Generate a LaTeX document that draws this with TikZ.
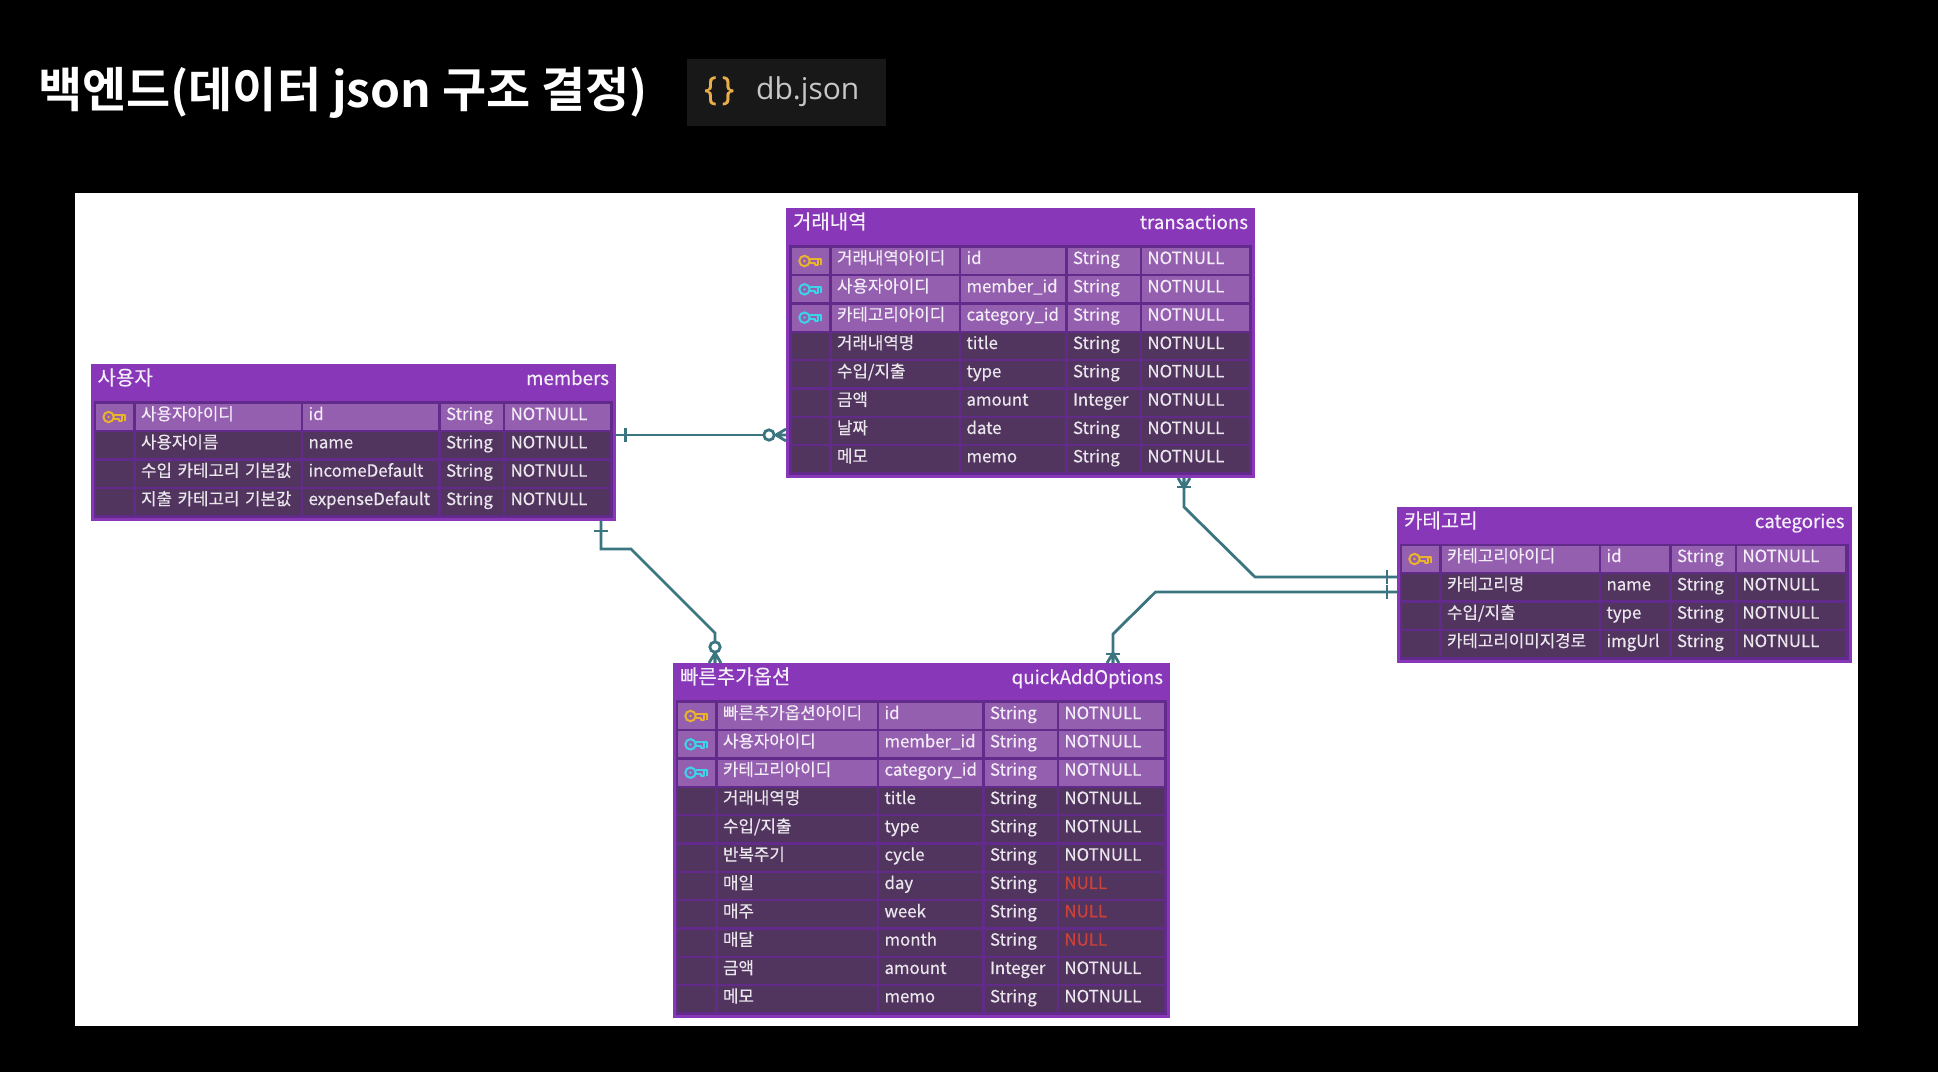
\documentclass[tikz,border=0pt]{standalone}
\usepackage{xcolor}
\usepackage{fontspec}
\setmainfont{Noto Sans CJK KR}[BoldFont={Noto Sans CJK KR Bold}]
\newfontfamily\tabfont{Open Sans}
\newfontfamily\bracefont{Open Sans}[FakeBold=0.6]
\newfontfamily\cellfont{Noto Sans CJK KR}[FakeBold=0.35]
\usetikzlibrary{positioning}
\definecolor{purplehead}{HTML}{8737B7}
\definecolor{purplegrid}{HTML}{622B8B}
\definecolor{keyrow}{HTML}{955FB0}
\definecolor{plainrow}{HTML}{52355F}
\definecolor{relteal}{HTML}{3B7580}
\definecolor{keygold}{HTML}{E8B32E}
\definecolor{keycyan}{HTML}{3FD3EA}
\definecolor{bracegold}{HTML}{E9AE4A}
\definecolor{nullred}{HTML}{CC4238}
\definecolor{tabbg}{HTML}{181818}
\newcommand{\wicon}{37pt}
\newcommand{\wname}{127pt}
\newcommand{\wfield}{104pt}
\newcommand{\wtype}{72pt}
\newcommand{\wnull}{107pt}
% row name, placement of its first cell, cell style, then the four texts
\newcommand{\errow}[7]{
    \node[#3, minimum width=\wicon, #2] (#1i) {};
    \node[#3, minimum width=\wname, text width=\wname-11pt, right=2.5pt of #1i] (#1n) {#4};
    \node[#3, minimum width=\wfield, text width=\wfield-11pt, right=2.5pt of #1n] (#1f) {#5};
    \node[#3, minimum width=\wtype, text width=\wtype-11pt, right=2.5pt of #1f] (#1t) {#6};
    \node[#3, minimum width=\wnull, text width=\wnull-11pt, right=2.5pt of #1t] (#1c) {#7};
}

\begin{document}
\begin{tikzpicture}[
    x=1pt, y=-1pt,
    canvas/.style={fill=white, inner sep=0pt, anchor=north west},
    erframe/.style={fill=purplehead, inner sep=0pt, outer sep=0pt, anchor=north west},
    erbody/.style={fill=purplegrid, inner sep=0pt, outer sep=0pt},
    ertitle/.style={text=white!92!purplehead, font=\fontsize{20}{20}\cellfont, inner sep=0pt, outer sep=0pt, text height=15pt, text depth=5pt},
    ername/.style={ertitle, font=\fontsize{18.7}{18.7}\cellfont},
    keycell/.style={fill=keyrow, text=white!88!keyrow, font=\fontsize{16.8}{16.8}\cellfont, inner xsep=5.5pt, inner ysep=0pt, outer sep=0pt, text height=16pt, text depth=10pt, align=left},
    plaincell/.style={keycell, fill=plainrow, text=white!88!plainrow},
    relline/.style={draw=relteal, line width=2.8pt},
    reltick/.pic={\draw[relline] (0,-7) -- (0,7);},
    relring/.pic={\draw[relline, fill=white] (0,0) circle (5.2pt);},
    relcrow/.pic={\draw[relline] (-10,0) -- (0,-6) (-10,0) -- (0,6) (-10,0) -- (0,0);},
    erkey/.pic={
        \draw[line width=2pt] (-6,0) circle (5.2pt);
        \fill (-6,0) circle (1.3pt);
        \draw[line width=2pt, line join=round] (-1,-2.5) -- (10.5,-2.5) -- (10.5,3.5) (7,-2.5) -- (7,3.5) -- (4,3.5) -- (4,1.5) -- (-1,1.5);
    }
]
    % Page
    \fill[black] (0,0) rectangle (1938,1072);
    \node[canvas, minimum width=1783pt, minimum height=833pt] (canvas) at (75,193) {};
    \node[anchor=base west, inner sep=0pt, text=white, font=\fontsize{48}{48}\selectfont\bfseries] (title) at (38,107) {백엔드(데이터 json 구조 결정)};
    \node[fill=tabbg, inner sep=0pt, minimum width=199pt, minimum height=67pt, anchor=north west] (tab) at (687,59) {};
    \node[anchor=base west, inner sep=0pt, text=bracegold, font=\fontsize{33}{33}\bracefont] (brace) at (704,100) {\{\kern5pt\}};
    \node[anchor=base west, inner sep=0pt, text=white!78!black, font=\fontsize{30}{30}\selectfont\tabfont] (tabname) at (756,99) {db.json};

    % Transactions table
    \node[erframe, minimum width=469pt, minimum height=270pt] (transactions) at (786,208) {};
    \node[erbody, minimum width=463pt, minimum height=230pt, above=3pt of transactions.south] (tbody) {};
    \node[ertitle, below right=6pt and 7pt of transactions.north west] (ttitle) {거래내역};
    \node[ername, below left=6pt and 7pt of transactions.north east] (tname) {transactions};
    \errow{t1}{below right=40pt and 6pt of transactions.north west}{keycell}{거래내역아이디}{id}{String}{NOTNULL}
    \errow{t2}{below=2.33pt of t1i}{keycell}{사용자아이디}{member\_id}{String}{NOTNULL}
    \errow{t3}{below=2.33pt of t2i}{keycell}{카테고리아이디}{category\_id}{String}{NOTNULL}
    \errow{t4}{below=2.33pt of t3i}{plaincell}{거래내역명}{title}{String}{NOTNULL}
    \errow{t5}{below=2.33pt of t4i}{plaincell}{수입/지출}{type}{String}{NOTNULL}
    \errow{t6}{below=2.33pt of t5i}{plaincell}{금액}{amount}{Integer}{NOTNULL}
    \errow{t7}{below=2.33pt of t6i}{plaincell}{날짜}{date}{String}{NOTNULL}
    \errow{t8}{below=2.33pt of t7i}{plaincell}{메모}{memo}{String}{NOTNULL}
    \pic[color=keygold] at (t1i) {erkey};
    \pic[color=keycyan] at (t2i) {erkey};
    \pic[color=keycyan] at (t3i) {erkey};

    % Members table
    \renewcommand{\wname}{165pt}
    \renewcommand{\wfield}{135pt}
    \renewcommand{\wtype}{62pt}
    \renewcommand{\wnull}{105pt}
    \node[erframe, minimum width=525.4pt, minimum height=156.7pt] (members) at (90.6,364) {};
    \node[erbody, minimum width=519.4pt, minimum height=116.7pt, above=3pt of members.south] (mbody) {};
    \node[ertitle, below right=6pt and 7pt of members.north west] (mtitle) {사용자};
    \node[ername, below left=6pt and 7pt of members.north east] (mname) {members};
    \errow{m1}{below right=40pt and 5.5pt of members.north west}{keycell}{사용자아이디}{id}{String}{NOTNULL}
    \errow{m2}{below=2.33pt of m1i}{plaincell}{사용자이름}{name}{String}{NOTNULL}
    \errow{m3}{below=2.33pt of m2i}{plaincell}{수입 카테고리 기본값}{incomeDefault}{String}{NOTNULL}
    \errow{m4}{below=2.33pt of m3i}{plaincell}{지출 카테고리 기본값}{expenseDefault}{String}{NOTNULL}
    \pic[color=keygold] at (m1i) {erkey};

    % Categories table
    \renewcommand{\wname}{157pt}
    \renewcommand{\wfield}{68pt}
    \renewcommand{\wtype}{63pt}
    \renewcommand{\wnull}{108pt}
    \node[erframe, minimum width=454.5pt, minimum height=156pt] (categories) at (1397,507) {};
    \node[erbody, minimum width=448.5pt, minimum height=116pt, above=3pt of categories.south] (cbody) {};
    \node[ertitle, below right=6pt and 7pt of categories.north west] (ctitle) {카테고리};
    \node[ername, below left=6pt and 7pt of categories.north east] (cname) {categories};
    \errow{c1}{below right=39pt and 5pt of categories.north west}{keycell}{카테고리아이디}{id}{String}{NOTNULL}
    \errow{c2}{below=2.33pt of c1i}{plaincell}{카테고리명}{name}{String}{NOTNULL}
    \errow{c3}{below=2.33pt of c2i}{plaincell}{수입/지출}{type}{String}{NOTNULL}
    \errow{c4}{below=2.33pt of c3i}{plaincell}{카테고리이미지경로}{imgUrl}{String}{NOTNULL}
    \pic[color=keygold] at (c1i) {erkey};

    % Quick add options table
    \renewcommand{\wname}{159pt}
    \renewcommand{\wfield}{103pt}
    \renewcommand{\wtype}{72pt}
    \renewcommand{\wnull}{105pt}
    \node[erframe, minimum width=497pt, minimum height=355pt] (quick) at (673,663) {};
    \node[erbody, minimum width=491pt, minimum height=315pt, above=3pt of quick.south] (qbody) {};
    \node[ertitle, below right=6pt and 7pt of quick.north west] (qtitle) {빠른추가옵션};
    \node[ername, below left=6pt and 7pt of quick.north east] (qname) {quickAddOptions};
    \errow{q1}{below right=40pt and 5pt of quick.north west}{keycell}{빠른추가옵션아이디}{id}{String}{NOTNULL}
    \errow{q2}{below=2.33pt of q1i}{keycell}{사용자아이디}{member\_id}{String}{NOTNULL}
    \errow{q3}{below=2.33pt of q2i}{keycell}{카테고리아이디}{category\_id}{String}{NOTNULL}
    \errow{q4}{below=2.33pt of q3i}{plaincell}{거래내역명}{title}{String}{NOTNULL}
    \errow{q5}{below=2.33pt of q4i}{plaincell}{수입/지출}{type}{String}{NOTNULL}
    \errow{q6}{below=2.33pt of q5i}{plaincell}{반복주기}{cycle}{String}{NOTNULL}
    \errow{q7}{below=2.33pt of q6i}{plaincell}{매일}{day}{String}{\textcolor{nullred}{NULL}}
    \errow{q8}{below=2.33pt of q7i}{plaincell}{매주}{week}{String}{\textcolor{nullred}{NULL}}
    \errow{q9}{below=2.33pt of q8i}{plaincell}{매달}{month}{String}{\textcolor{nullred}{NULL}}
    \errow{q10}{below=2.33pt of q9i}{plaincell}{금액}{amount}{Integer}{NOTNULL}
    \errow{q11}{below=2.33pt of q10i}{plaincell}{메모}{memo}{String}{NOTNULL}
    \pic[color=keygold] at (q1i) {erkey};
    \pic[color=keycyan] at (q2i) {erkey};
    \pic[color=keycyan] at (q3i) {erkey};

    % Connectors
    \draw[relline] (members.east |- 0,435) -- (transactions.west |- 0,435);
    \draw[relline] (members.south -| 601,0) -- (601,549) -- (631,549) -- (715,633) -- (quick.north -| 715,0);
    \draw[relline] (transactions.south -| 1184,0) -- (1184,507) -- (1255,577) -- (categories.west |- 0,577);
    \draw[relline] (categories.west |- 0,592) -- (1155.5,592) -- (1113,634) -- (quick.north -| 1113,0);

    % Line ends
    \pic at (625.5,435) {reltick};
    \pic at (769,435) {relring};
    \pic at (786,435) {relcrow};
    \pic[rotate=90] at (601,531) {reltick};
    \pic[rotate=90] at (715,647) {relring};
    \pic[rotate=-90] at (715,663) {relcrow};
    \pic[rotate=90] at (1184,487) {reltick};
    \pic[rotate=90] at (1184,478) {relcrow};
    \pic at (1387,577) {reltick};
    \pic at (1387,592) {reltick};
    \pic[rotate=90] at (1113,654) {reltick};
    \pic[rotate=-90] at (1113,663) {relcrow};
\end{tikzpicture}
\end{document}
